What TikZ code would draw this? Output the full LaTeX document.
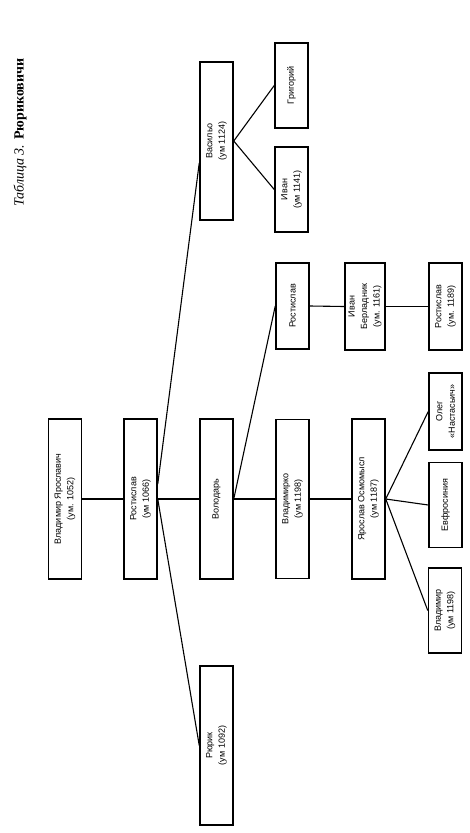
\documentclass[tikz,border=0pt]{standalone}
\usepackage{fontspec}
\setmainfont{Liberation Sans}
\newfontfamily\titlefont{Liberation Serif}
\usetikzlibrary{calc}
\begin{document}
\begin{tikzpicture}[x=1pt,y=-1pt,
  box/.style={draw, line width=1.5pt, rotate=90, align=center, inner sep=1pt,
    font=\fontsize{9}{12.5}\selectfont, minimum height=33pt},
  link/.style={line width=1.1pt}]
\useasboundingbox (0,0) rectangle (470,833);
\node[rotate=90, anchor=west, font=\titlefont\fontsize{14}{16}\selectfont, inner sep=0pt] (title) at (20,207)
  {\textit{Таблица 3.} \textbf{Рюриковичи}};
\node[box, minimum width=160pt] (vy) at (65,499) {Владимир Ярославич\\(ум. 1052)};
\node[box, minimum width=160pt] (r2) at (140.5,499) {Ростислав\\(ум 1066)};
\node[box, minimum width=159pt] (ru) at (216.5,745.5) {Рюрик\\(ум 1092)};
\node[box, minimum width=160pt] (vol) at (216.5,499) {Володарь};
\node[box, minimum width=158pt] (vas) at (216.5,141) {Васильо\\(ум 1124)};
\node[box, minimum width=159pt] (vk) at (292.5,499) {Владимирко\\(ум 1198)};
\node[box, minimum width=86pt] (r4) at (292.5,306) {Ростислав};
\node[box, minimum width=85pt] (iv) at (291.5,189.5) {Иван\\(ум 1141)};
\node[box, minimum width=85pt] (gr) at (291.5,85.5) {Григорий};
\node[box, minimum width=160pt] (yo) at (368.5,499) {Ярослав Осмомысл\\(ум 1187)};
\node[box, minimum width=87pt, minimum height=40pt] (ib) at (365,306.5) {Иван\\Берладник\\(ум. 1161)};
\node[box, minimum width=87pt] (r6) at (445.5,306.5) {Ростислав\\(ум. 1189)};
\node[box, minimum width=77pt] (ol) at (445.5,411.5) {Олег\\«Настасьич»};
\node[box, minimum width=85pt] (ev) at (445.5,505) {Евфросиния};
\node[box, minimum width=85pt] (vl) at (445,610.5) {Владимир\\(ум 1198)};
\draw[link] (vy.south) -- (r2.north);
\draw[link] (r2.south) -- (vol.north);
\draw[link] (r2.south) -- (ru.north);
\draw[link] ($(r2.south)+(0,-15)$) -- ($(vas.north)+(0,22)$);
\draw[link] (vas.south) -- (gr.north);
\draw[link] (vas.south) -- (iv.north);
\draw[link] (vol.south) -- (vk.north);
\draw[link] (vol.south) -- (r4.north);
\draw[link] (r4.south) -- (ib.north);
\draw[link] (ib.south) -- (r6.north);
\draw[link] (vk.south) -- (yo.north);
\draw[link] (yo.south) -- (ol.north);
\draw[link] (yo.south) -- (ev.north);
\draw[link] (yo.south) -- (vl.north);
\end{tikzpicture}
\end{document}
